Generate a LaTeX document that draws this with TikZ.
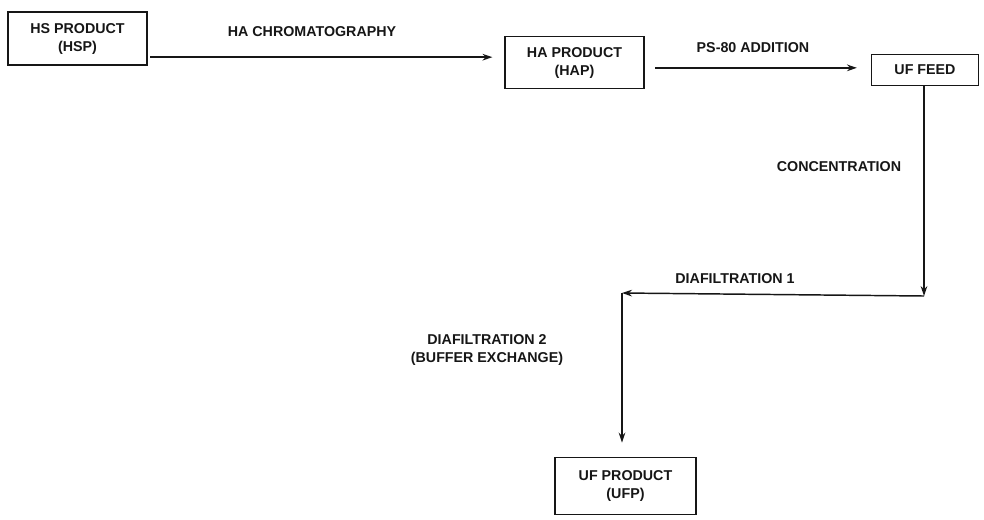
\documentclass[tikz,border=0pt]{standalone}
\usepackage{fontspec}
\setmainfont{Liberation Sans}
\usepackage{tikz}
\usetikzlibrary{arrows.meta,calc,positioning}
\definecolor{ink}{HTML}{161616}

\begin{document}
\begin{tikzpicture}[x=0.75pt,y=-0.75pt,font=\fontsize{10.7}{13.5}\selectfont\bfseries,
  stage/.style={draw=ink,line width=1.1pt,align=center,inner sep=0pt,text=ink},
  flow/.style={draw=ink,line width=1.1pt,-{Stealth[length=7.5pt,width=5pt]}},
  tag/.style={text=ink,align=center,inner sep=0pt}]
\useasboundingbox (0,0) rectangle (984,519);
% process boxes
\node[stage,minimum width=104pt,minimum height=40pt] (hsp) at (77.5,38.5) {HS PRODUCT\\(HSP)};
\node[stage,minimum width=104pt,minimum height=39pt] (hap) at (574.5,62.5) {HA PRODUCT\\(HAP)};
\node[stage,minimum width=80pt,minimum height=23pt] (uff) at (925,70) {UF FEED};
\node[stage,minimum width=106pt,minimum height=43pt] (ufp) at (625.5,486) {UF PRODUCT\\(UFP)};
% corners of the ultrafiltration path
\coordinate (turn1) at (924,296);
\coordinate (turn2) at (622,293);
% connectors
\draw[flow,shorten <=2pt,shorten >=9pt] ([yshift=-14pt]hsp.east) -- ([yshift=-14pt]hsp.east -| hap.west);
\draw[flow,shorten <=8pt,shorten >=10.5pt] ([yshift=-4pt]hap.east) -- ([yshift=-4pt]hap.east -| uff.west);
\draw[flow] (uff.south -| turn1) -- (turn1);
\draw[flow] (turn1) -- (turn2);
\draw[flow,shorten >=10.5pt] (turn2) -- (turn2 |- ufp.north);
% step labels
\node[tag] (chrom) at (312,32) {HA CHROMATOGRAPHY};
\node[tag] (ps80) at (753,48) {PS-80 ADDITION};
\node[tag] (conc) at (839,167) {CONCENTRATION};
\node[tag] (dia1) at (735,279) {DIAFILTRATION 1};
\node[tag] (dia2) at (487,350) {DIAFILTRATION 2\\(BUFFER EXCHANGE)};
\end{tikzpicture}
\end{document}
